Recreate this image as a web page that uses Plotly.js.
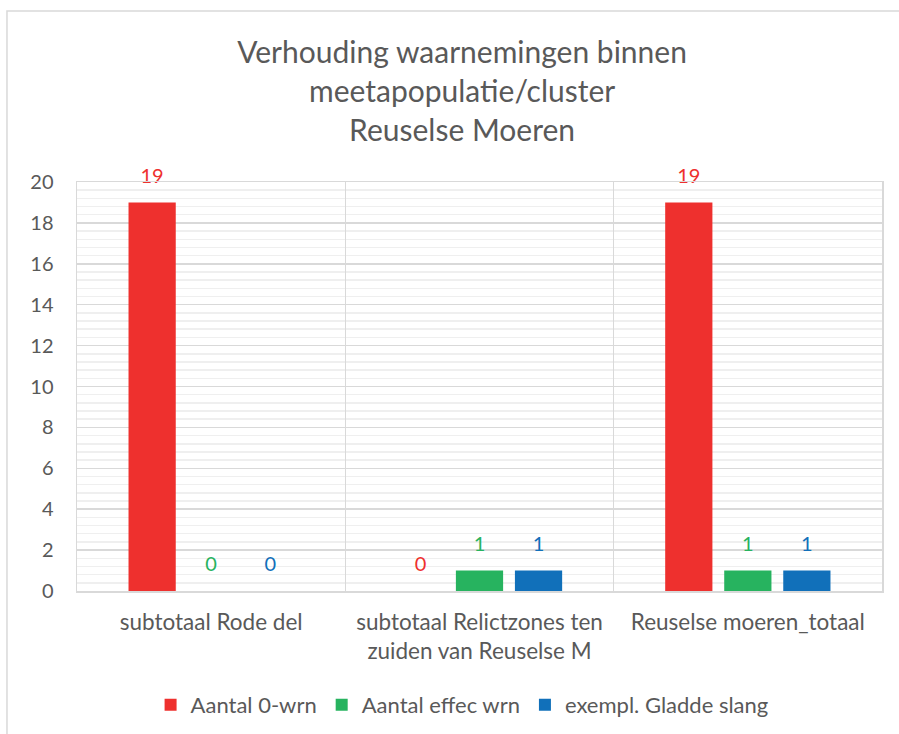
<!DOCTYPE html>
<html><head><meta charset="utf-8">
<script src="https://cdn.plot.ly/plotly-3.0.1.min.js"></script>
<style>html,body{margin:0;padding:0;background:#fff;}#chart{width:899px;height:734px;}</style>
</head><body><div id="chart"></div>
<script>
const categories = ["subtotaal Rode del", "subtotaal Relictzones ten<br>zuiden van Reuselse M", "Reuselse moeren_totaal"];
const seriesNames = ["Aantal 0-wrn", "Aantal effec wrn", "exempl. Gladde slang"];
const aantal0 = [19, 0, 19];
const aantalEffec = [0, 1, 1];
const gladdeSlang = [0, 1, 1];
const yTicks = [0, 2, 4, 6, 8, 10, 12, 14, 16, 18, 20];
const colors = ["#EE302E", "#27B35F", "#1170BA"];
const font = "Lato, 'Open Sans', sans-serif";

const values = [aantal0, aantalEffec, gladdeSlang];
const traces = values.map((v, i) => ({
  type: "bar", name: seriesNames[i], x: categories, y: v,
  marker: {color: colors[i]},
  hoverinfo: "skip"
}));
// data labels: grouped scatter text traces aligned with the bars
values.forEach((v, i) => traces.push({
  type: "scatter", mode: "markers+text", x: categories, y: v, showlegend: false,
  marker: {size: 22, color: "rgba(0,0,0,0)"},
  text: v.map(String), textposition: "top center", cliponaxis: false,
  textfont: {color: colors[i], size: 20, family: font}, hoverinfo: "skip"
}));
// invisible trace on secondary numeric axis for category separator grid
traces.push({type: "scatter", x: [-0.5, 2.5], y: [0, 0], xaxis: "x2", mode: "none", showlegend: false, hoverinfo: "skip"});

const layout = {
  width: 899, height: 734,
  margin: {l: 77, r: 17, t: 182, b: 143},
  paper_bgcolor: "#fff", plot_bgcolor: "#fff",
  font: {family: font, color: "#595959", size: 18},
  title: {text: "Verhouding waarnemingen binnen<br>meetapopulatie/cluster<br>Reuselse Moeren",
    x: 0.514, xanchor: "center", xref: "container", y: 1 - 63 / 734, yanchor: "top", yref: "container",
    font: {size: 30, color: "#595959", family: font}},
  barmode: "group", bargap: 0.34, bargroupgap: 0.2,
  scattermode: "group", scattergap: 0.34,
  xaxis: {type: "category", showgrid: false, showline: true, linecolor: "#D9D9D9", linewidth: 1.5, mirror: true,
    ticks: "", ticklabelstandoff: 10, tickfont: {size: 22.5, color: "#595959"}, fixedrange: true},
  xaxis2: {overlaying: "x", range: [-0.5, 2.5], tickmode: "linear", tick0: 0.5, dtick: 1, showticklabels: false,
    showgrid: true, gridcolor: "#D9D9D9", gridwidth: 1.5, zeroline: false, ticks: "", fixedrange: true},
  yaxis: {range: [0, 20], tickvals: yTicks, ticktext: yTicks.map(String), showgrid: true, gridcolor: "#D9D9D9", gridwidth: 1.5,
    minor: {dtick: 0.4, showgrid: true, gridcolor: "#EFEFEF", gridwidth: 1.5},
    showline: true, linecolor: "#D9D9D9", linewidth: 1.5, mirror: true, zeroline: false,
    ticks: "", ticklabelstandoff: 18, tickfont: {size: 20, color: "#595959"}, fixedrange: true},
  legend: {orientation: "h", x: 0.514, xanchor: "center", xref: "container", y: 1 - 705 / 734, yanchor: "middle", yref: "container",
    font: {size: 22, color: "#595959"}, itemwidth: 30, traceorder: "normal", bgcolor: "rgba(0,0,0,0)"},
  shapes: [{type: "rect", xref: "paper", yref: "paper", x0: -0.087, x1: 1.1, y0: -0.5, y1: 1.418,
    line: {color: "#D9D9D9", width: 1.5}, layer: "below"}],
  showlegend: true
};
Plotly.newPlot("chart", traces, layout, {displayModeBar: false, staticPlot: true});
</script></body></html>
